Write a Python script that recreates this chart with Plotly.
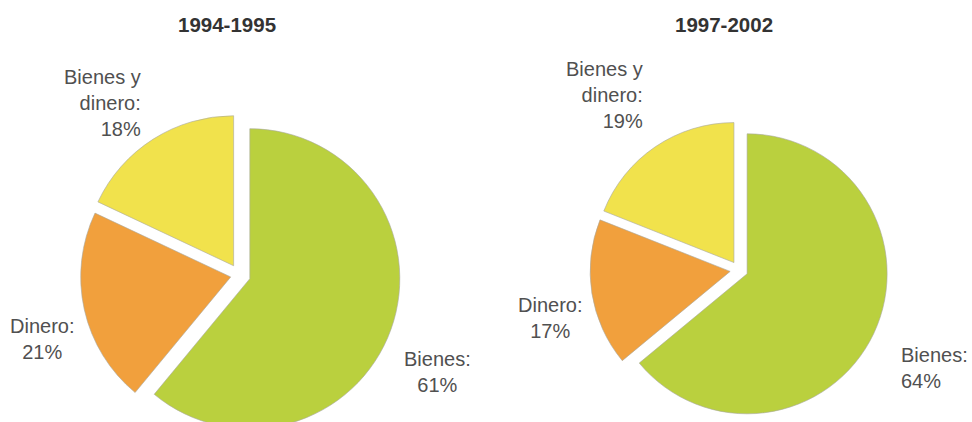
import plotly.graph_objects as go

# Data
categories = ["Bienes", "Dinero", "Bienes y dinero"]
label_text = ["Bienes:", "Dinero:", "Bienes y<br>dinero:"]
periods = ["1994-1995", "1997-2002"]
values_1994_1995 = [61, 21, 18]
values_1997_2002 = [64, 17, 19]

colors = ["#bad03e", "#f1a03d", "#f1e24c"]
line_color = "#a8a8a0"
text_color = "#505050"

W, H = 972, 440  # figure is a bit taller than the 422px window; bottom is cropped as in the reference

fig = go.Figure()

def px_dom(cx, cy, half):
    x0 = (cx - half) / W
    x1 = (cx + half) / W
    y0 = (H - cy - half) / H
    y1 = (H - cy + half) / H
    return dict(x=[max(0, x0), min(1, x1)], y=[max(0, y0), min(1, y1)])

fig.add_trace(go.Pie(
    labels=categories, values=values_1994_1995,
    sort=False, direction="clockwise", rotation=0,
    pull=[0.073, 0.06, 0.073],
    marker=dict(colors=colors, line=dict(color=line_color, width=0.6)),
    textinfo="none", hoverinfo="label+percent",
    domain=px_dom(239.5, 275, 150 * 1.073), showlegend=False,
))
fig.add_trace(go.Pie(
    labels=categories, values=values_1997_2002,
    sort=False, direction="clockwise", rotation=0,
    pull=[0.064, 0.064, 0.064],
    marker=dict(colors=colors, line=dict(color=line_color, width=0.6)),
    textinfo="none", hoverinfo="label+percent",
    domain=px_dom(739, 270, 140 * 1.064), showlegend=False,
))

font = dict(family="Liberation Sans, Arial, sans-serif", size=20, color=text_color)

label_pos = [
    [(437, 372, "center", "center"), (41.5, 339, "center", "center"), (143, 103, "right", "right")],
    [(899, 368, "left", "left"), (549.5, 318, "center", "center"), (645, 95, "right", "right")],
]
all_values = [values_1994_1995, values_1997_2002]

annotations = []
for k, vals in enumerate(all_values):
    for i, v in enumerate(vals):
        x, y, xa, al = label_pos[k][i]
        annotations.append(dict(
            x=x / W, y=1 - y / H, xref="paper", yref="paper",
            text=f"{label_text[i]}<br>{v}%", showarrow=False,
            xanchor=xa, yanchor="middle", align=al, font=font,
        ))

title_x = [226.5, 724]
for k, p in enumerate(periods):
    annotations.append(dict(
        x=title_x[k] / W, y=1 - 25 / H, xref="paper", yref="paper",
        text=f"<b>{p}</b>", showarrow=False, xanchor="center", yanchor="middle",
        font=dict(family="Liberation Sans, Arial, sans-serif", size=20.5, color="#333333"),
    ))

fig.update_layout(
    width=W, height=H,
    margin=dict(l=0, r=0, t=0, b=0),
    paper_bgcolor="white", plot_bgcolor="white",
    annotations=annotations,
)

fig.write_html(
    "out.html",
    config={"displayModeBar": False},
    post_script="document.body.style.margin='0';document.body.style.overflow='hidden';",
)
